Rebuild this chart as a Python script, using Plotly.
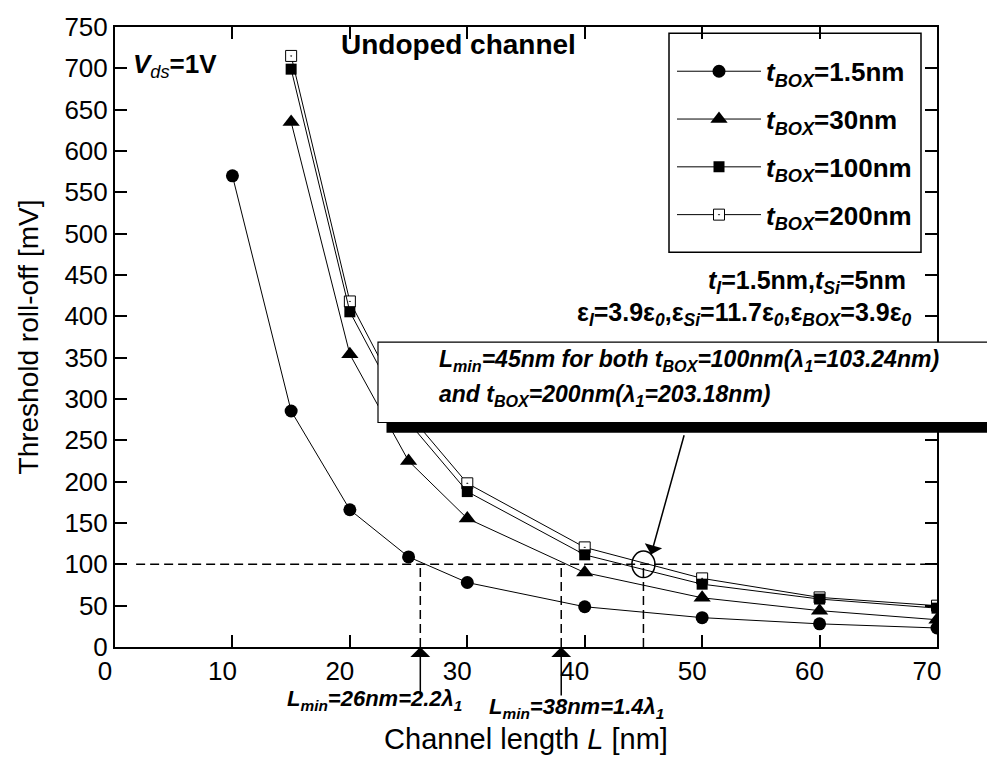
import plotly.graph_objects as go

# Channel length (nm) and threshold roll-off (mV) for each buried-oxide thickness
L_NM = [10, 15, 20, 25, 30, 40, 50, 60, 70]
L_NM_THICK_BOX = [15, 20, 25, 30, 40, 50, 60, 70]
ROLLOFF_TBOX_1P5 = [570, 285.5, 166, 109, 78, 48.7, 35.5, 28, 23]
ROLLOFF_TBOX_30 = [635, 354, 225, 155.5, 90, 59.5, 44, 33]
ROLLOFF_TBOX_100 = [699, 405.5, 272, 188, 111.5, 76, 58, 47]
ROLLOFF_TBOX_200 = [715, 418, 282, 198, 120.5, 83, 60, 50]

X_TICKS = [0, 10, 20, 30, 40, 50, 60, 70]
Y_TICKS = list(range(0, 751, 50))
X_MINOR_STEP = 1
Y_MINOR_STEP = 25

CRITERION_MV = 100          # roll-off criterion
L_MIN_NM = [26, 38, 45]     # minimum channel lengths meeting the criterion

FONT = "Liberation Sans, Arial, sans-serif"
W, H = 987, 762
ML, MR, MT, MB = 115, 50, 23, 114
PW, PH = W - ML - MR, H - MT - MB


def px(x):
    return (x - ML) / PW


def py(y):
    return (H - MB - y) / PH


fig = go.Figure()

series = [
    ("<b><i>t<sub>BOX</sub></i>=1.5nm</b>", L_NM, ROLLOFF_TBOX_1P5,
     dict(symbol="circle", size=13, color="black"), 1),
    ("<b><i>t<sub>BOX</sub></i>=30nm</b>", L_NM_THICK_BOX, ROLLOFF_TBOX_30,
     dict(symbol="triangle-up", size=15, color="black"), 2),
    ("<b><i>t<sub>BOX</sub></i>=200nm</b>", L_NM_THICK_BOX, ROLLOFF_TBOX_200,
     dict(symbol="square-dot", size=11, color="white",
          line=dict(color="black", width=1)), 4),
    ("<b><i>t<sub>BOX</sub></i>=100nm</b>", L_NM_THICK_BOX, ROLLOFF_TBOX_100,
     dict(symbol="square", size=11, color="black"), 3),
]
for name, xs, ys, mk, rank in series:
    fig.add_trace(go.Scatter(
        x=xs, y=ys, name=name, mode="lines+markers",
        line=dict(color="black", width=1), marker=mk,
        legendrank=rank, legendgroup=name,
    ))

dash = "9px,5px"
shapes = [
    # legend frame
    dict(type="rect", xref="paper", yref="paper", layer="below",
         x0=px(669), x1=px(921), y0=py(250), y1=py(29.3),
         fillcolor="white", line=dict(color="black", width=1.5)),
    # criterion line and the three minimum-length markers
    dict(type="line", xref="x", yref="y", x0=1.8, x1=70,
         y0=CRITERION_MV, y1=CRITERION_MV, line=dict(color="black", width=1.5, dash=dash)),
]
for lm in L_MIN_NM:
    shapes.append(dict(type="line", xref="x", yref="y", x0=lm, x1=lm,
                       y0=0, y1=CRITERION_MV,
                       line=dict(color="black", width=1.5, dash=dash)))
shapes.append(dict(type="circle", xref="x", yref="y",
                   x0=L_MIN_NM[2] - 0.98, x1=L_MIN_NM[2] + 0.98,
                   y0=CRITERION_MV - 16, y1=CRITERION_MV + 16,
                   line=dict(color="black", width=1.5)))
# callout box with drop shadow
shapes.append(dict(type="rect", xref="paper", yref="paper", layer="above",
                   x0=px(386.5), x1=px(1010), y0=py(432), y1=py(350),
                   fillcolor="black", line=dict(width=0)))
shapes.append(dict(type="rect", xref="paper", yref="paper", layer="above",
                   x0=px(378), x1=px(1010), y0=py(421.7), y1=py(340.7),
                   fillcolor="white", line=dict(color="black", width=1.2)))

annotations = []


def text(x, y, s, size, xanchor="left", yanchor="middle"):
    annotations.append(dict(xref="paper", yref="paper", x=px(x), y=py(y),
                            text=s, showarrow=False, xanchor=xanchor,
                            yanchor=yanchor, font=dict(family=FONT, size=size, color="black")))


text(131, 62, "<b><i>V</i></b><i><sub>ds</sub></i><b>=1V</b>", 26)
text(339, 41, "<b>Undoped channel</b>", 28)
text(908, 280, "<b><i>t<sub>I</sub></i>=1.5nm,<i>t<sub>Si</sub></i>=5nm</b>", 25, xanchor="right")
text(914, 312, "<b>ε<i><sub>I</sub></i>=3.9ε<i><sub>0</sub></i>,ε<i><sub>Si</sub></i>=11.7ε<i><sub>0</sub></i>,"
     "ε<i><sub>BOX</sub></i>=3.9ε<i><sub>0</sub></i></b>", 25, xanchor="right")
text(437, 359, "<b><i>L<sub>min</sub>=45nm for both t<sub>BOX</sub>=100nm(λ<sub>1</sub>=103.24nm)</i></b>", 23)
text(437, 394, "<b><i>and t<sub>BOX</sub>=200nm(λ<sub>1</sub>=203.18nm)</i></b>", 23)
text(285, 701, "<b><i>L<sub>min</sub>=26nm=2.2λ<sub>1</sub></i></b>", 22)
text(487, 709, "<b><i>L<sub>min</sub>=38nm=1.4λ<sub>1</sub></i></b>", 22)

# arrows pointing at the minimum lengths on the axis
for lm in L_MIN_NM[:2]:
    annotations.append(dict(x=lm, y=0, xref="x", yref="y", ax=0, ay=50,
                            showarrow=True, arrowhead=1, arrowsize=2.2,
                            arrowwidth=1.5, arrowcolor="black", text=""))
# arrow from the callout box to the circled crossing point
annotations.append(dict(x=45.65, y=112, xref="x", yref="y", axref="x", ayref="y",
                        ax=48.5, ay=258, showarrow=True, arrowhead=1,
                        arrowsize=2.0, arrowwidth=1.5, arrowcolor="black", text=""))

axis_common = dict(
    showline=True, linewidth=2, linecolor="black", mirror="allticks",
    ticks="inside", tickcolor="black",
    showgrid=False, zeroline=False, tickmode="linear",
)
major = dict(ticklen=12, tickwidth=2,
             tickfont=dict(family=FONT, size=26, color="black"))
# companion axes carrying the short intermediate ticks
minor = dict(ticklen=6, tickwidth=1.5, showticklabels=False)

fig.update_layout(
    width=W, height=H,
    margin=dict(l=ML, r=MR, t=MT, b=MB),
    paper_bgcolor="white", plot_bgcolor="white",
    font=dict(family=FONT, color="black"),
    xaxis=dict(
        range=[X_TICKS[0], X_TICKS[-1]], tick0=X_TICKS[0], dtick=X_TICKS[1] - X_TICKS[0],
        ticklabelshift=-10,
        title=dict(text="Channel length <i>L</i> [nm]",
                   font=dict(family=FONT, size=29, color="black"), standoff=43),
        **axis_common, **major,
    ),
    yaxis=dict(
        range=[Y_TICKS[0], Y_TICKS[-1]], tick0=Y_TICKS[0], dtick=Y_TICKS[1] - Y_TICKS[0],
        title=dict(text="Threshold roll-off [mV]",
                   font=dict(family=FONT, size=28, color="black"), standoff=18),
        **axis_common, **major,
    ),
    xaxis2=dict(
        overlaying="x", anchor="y", side="bottom",
        range=[X_TICKS[0], X_TICKS[-1]], tick0=X_TICKS[0], dtick=X_MINOR_STEP,
        **axis_common, **minor,
    ),
    yaxis2=dict(
        overlaying="y", anchor="x", side="left",
        range=[Y_TICKS[0], Y_TICKS[-1]], tick0=Y_TICKS[0], dtick=Y_MINOR_STEP,
        **axis_common, **minor,
    ),
    legend=dict(
        x=px(672), y=py(44), xanchor="left", yanchor="top",
        bgcolor="rgba(0,0,0,0)", borderwidth=0,
        font=dict(family=FONT, size=26, color="black"),
        traceorder="grouped", tracegroupgap=11, itemwidth=84,
    ),
    shapes=shapes,
    annotations=annotations,
    showlegend=True,
)

fig.write_html("out.html")
